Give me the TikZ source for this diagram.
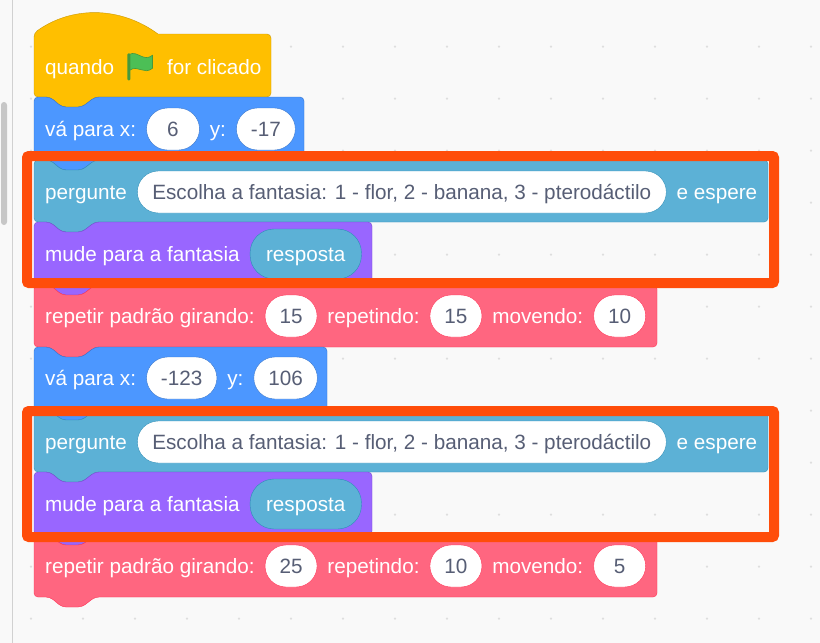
\documentclass[tikz,border=0pt]{standalone}
\usepackage{fontspec}
\setmainfont{Liberation Sans}
\usetikzlibrary{positioning}
\definecolor{canvas}{HTML}{F9F9F9}
\definecolor{hatfill}{HTML}{FFBF00}
\definecolor{hatedge}{HTML}{CC9900}
\definecolor{motionfill}{HTML}{4C97FF}
\definecolor{motionedge}{HTML}{3373CC}
\definecolor{sensefill}{HTML}{5CB1D6}
\definecolor{senseedge}{HTML}{2E8EB8}
\definecolor{looksfill}{HTML}{9966FF}
\definecolor{looksedge}{HTML}{774DCB}
\definecolor{customfill}{HTML}{FF6680}
\definecolor{customedge}{HTML}{FF3355}
\definecolor{pilltext}{HTML}{575E75}
\definecolor{marker}{HTML}{FF4D0A}
\definecolor{flagfill}{HTML}{4CBF56}
\definecolor{flagedge}{HTML}{45993D}

\begin{document}
\begin{tikzpicture}[
      x=1pt,y=-1pt,
      every node/.style={font=\fontsize{20.7}{24}\selectfont},
      word/.style={
         text=white,
         inner sep=0pt,
         text height=16.5pt,
         text depth=2.5pt
      },
      pill/.style={
         draw=#1,
         fill=white,
         text=pilltext,
         rounded corners=21pt,
         inner xsep=14.5pt,
         inner ysep=0pt,
         minimum height=42pt,
         minimum width=52pt,
         text height=16.5pt,
         text depth=2.5pt
      },
      reporter/.style={
         draw=senseedge,
         fill=sensefill,
         text=white,
         rounded corners=24pt,
         inner xsep=16pt,
         inner ysep=0pt,
         minimum height=50pt,
         text height=16.5pt,
         text depth=2.5pt
      },
      highlight/.style={
         draw=marker,
         line width=10pt,
         rounded corners=2pt
      },
      griddot/.style={fill=black!13},
      node distance=10pt
    ]
    \useasboundingbox (0,0) rectangle (820,643);
    \fill[canvas] (0,0) rectangle (820,643);
    \draw[black!18,line width=1.5pt] (12.5,0) -- (12.5,643);
    \fill[black!22,rounded corners=3pt] (1,102) rectangle (7,225);

    % workspace dots
    \foreach \px in {31,83,...,811} {
      \foreach \py in {46.6,98.6,...,620} {
        \fill[griddot] (\px,\py) circle (1.2pt);
      }
    }

    % hat block
    \draw[fill=hatfill,draw=hatedge] (34,33) .. controls (72,6) and (120,6) .. (158,34)
      -- (267,34) [rounded corners=4pt] -- (271,34) -- (271,97) -- (95,97) -- (82,107) -- (62,107)
      -- (50,97) -- (34,97) -- cycle;

    % stack blocks, top to bottom
    \foreach \kind/\ytop/\ybot/\xend in {
        motion/97/160/304,
        sense/160/222/768,
        looks/222/285/372,
        custom/285/347/657,
        motion/347/410/327,
        sense/410/472/768,
        looks/472/535/372,
        custom/535/597/657} {
      \draw[fill=\kind fill,draw=\kind edge,rounded corners=4pt]
        (34,\ybot) -- (34,\ytop) -- (50,\ytop) -- (62,\ytop+10) -- (82,\ytop+10)
        -- (95,\ytop) -- (\xend,\ytop) -- (\xend,\ybot) -- (95,\ybot)
        -- (82,\ybot+10) -- (62,\ybot+10) -- (50,\ybot) -- cycle;
    }

    % row 1
    \node (n11) [word,anchor=west] at (45,67) {quando};
    \node (n12) [inner sep=0pt,minimum width=25pt,minimum height=27pt,right=13pt of n11] {};
    \node (n13) [word,right=14pt of n12] {for clicado};
    \begin{scope}[shift={(n12.north west)}]
      \draw[fill=flagfill,draw=flagedge,line width=.6pt]
        (2,1) .. controls (10,-3) and (16,9) .. (25,2)
        -- (25,15) .. controls (16,22) and (11,11) .. (2,17) -- cycle;
      \fill[flagedge,rounded corners=1pt] (0,0) rectangle (2.8,27);
    \end{scope}

    % row 2
    \node (n21) [word,anchor=west] at (45,129) {vá para x:};
    \node (n22) [pill=motionedge,minimum width=53pt,right=of n21] {6};
    \node (n23) [word,right=of n22] {y:};
    \node (n24) [pill=motionedge,right=of n23] {-17};

    % row 3
    \node (n31) [word,anchor=west] at (45,192) {pergunte};
    \node (n32) [pill=senseedge,minimum width=529pt,right=of n31] {Escolha a fantasia: 1 - flor, 2 - banana, 3 - pterodáctilo};
    \node (n33) [word,right=of n32] {e espere};

    % row 4
    \node (n41) [word,anchor=west] at (45,254) {mude para a fantasia};
    \node (n42) [reporter,right=of n41] {resposta};

    % row 5
    \node (n51) [word,anchor=west] at (45,316) {repetir padrão girando:};
    \node (n52) [pill=customedge,right=of n51] {15};
    \node (n53) [word,right=of n52] {repetindo:};
    \node (n54) [pill=customedge,right=of n53] {15};
    \node (n55) [word,right=of n54] {movendo:};
    \node (n56) [pill=customedge,right=of n55] {10};

    % row 6
    \node (n61) [word,anchor=west] at (45,378) {vá para x:};
    \node (n62) [pill=motionedge,right=of n61] {-123};
    \node (n63) [word,right=of n62] {y:};
    \node (n64) [pill=motionedge,right=of n63] {106};

    % row 7
    \node (n71) [word,anchor=west] at (45,442) {pergunte};
    \node (n72) [pill=senseedge,minimum width=529pt,right=of n71] {Escolha a fantasia: 1 - flor, 2 - banana, 3 - pterodáctilo};
    \node (n73) [word,right=of n72] {e espere};

    % row 8
    \node (n81) [word,anchor=west] at (45,504) {mude para a fantasia};
    \node (n82) [reporter,right=of n81] {resposta};

    % row 9
    \node (n91) [word,anchor=west] at (45,566) {repetir padrão girando:};
    \node (n92) [pill=customedge,right=of n91] {25};
    \node (n93) [word,right=of n92] {repetindo:};
    \node (n94) [pill=customedge,right=of n93] {10};
    \node (n95) [word,right=of n94] {movendo:};
    \node (n96) [pill=customedge,right=of n95] {5};

    % orange frames
    \draw[highlight] (27,156) rectangle (774,283);
    \draw[highlight] (27,411) rectangle (774,537);
\end{tikzpicture}
\end{document}
